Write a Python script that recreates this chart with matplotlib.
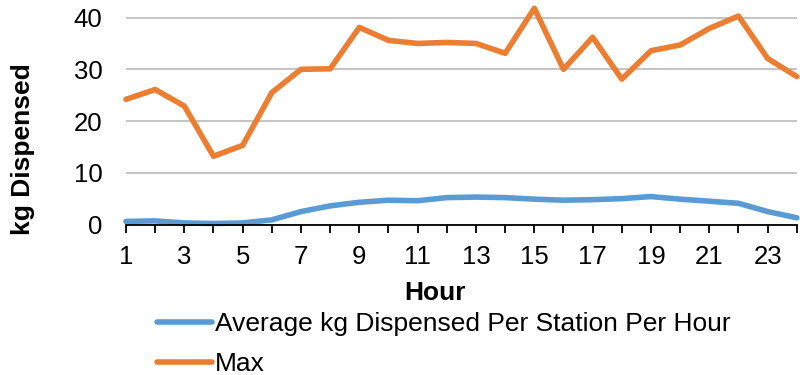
import matplotlib
matplotlib.use("Agg")
import matplotlib.pyplot as plt

plt.rcParams["font.family"] = ["Liberation Sans", "DejaVu Sans"]

hours = list(range(1, 25))
avg_kg = [0.6, 0.7, 0.3, 0.2, 0.3, 0.9, 2.5, 3.6, 4.3, 4.7, 4.6, 5.2,
          5.3, 5.2, 4.9, 4.7, 4.8, 5.0, 5.4, 4.9, 4.5, 4.1, 2.5, 1.3]
max_kg = [24.2, 26.1, 22.9, 13.2, 15.3, 25.5, 30.0, 30.1, 38.1, 35.6, 35.0, 35.2,
          35.0, 33.1, 41.8, 30.0, 36.2, 28.1, 33.6, 34.7, 37.9, 40.3, 32.1, 28.6]
y_ticks = [0, 10, 20, 30, 40]
x_labels = [str(h) if h % 2 == 1 else "" for h in hours]

fig = plt.figure(figsize=(8, 3.75), dpi=100)
ax = fig.add_axes([0.1575, 0.4013, 0.8385, 0.5987])

ax.plot(hours, avg_kg, color="#5B9BD5", linewidth=4.0, solid_capstyle="round",
        label="Average kg Dispensed Per Station Per Hour", clip_on=False, zorder=3)
ax.plot(hours, max_kg, color="#ED7D31", linewidth=4.0, solid_capstyle="round",
        label="Max", clip_on=False, zorder=3)

ax.set_xlim(1, 24)
ax.set_ylim(0, 43.4)
ax.set_yticks(y_ticks)
ax.set_xticks(hours)
ax.set_xticklabels(x_labels)
ax.grid(axis="y", color="#BFBFBF", linewidth=1.3)
ax.set_axisbelow(True)
for s in ["top", "right", "left"]:
    ax.spines[s].set_visible(False)
ax.spines["bottom"].set_linewidth(1.3)
ax.spines["bottom"].set_zorder(4)
ax.tick_params(axis="y", length=0, pad=17, labelsize=18.5)
ax.tick_params(axis="x", length=5.5, width=1.3, direction="out", pad=9, labelsize=18.5)

ax.set_xlabel("Hour", fontsize=19, fontweight="bold", va="center")
ax.xaxis.set_label_coords(0.46, -0.305)
ax.set_ylabel("kg Dispensed", fontsize=19, fontweight="bold", va="center")
ax.yaxis.set_label_coords(-0.1535, 0.336)

fig.legend(loc="upper left", bbox_to_anchor=(0.196, 0.168), frameon=False,
           fontsize=19, handlelength=2.1, handletextpad=0.1, labelspacing=0.62,
           borderaxespad=0, borderpad=0)

fig.savefig("out.png", dpi=100, facecolor="white")
